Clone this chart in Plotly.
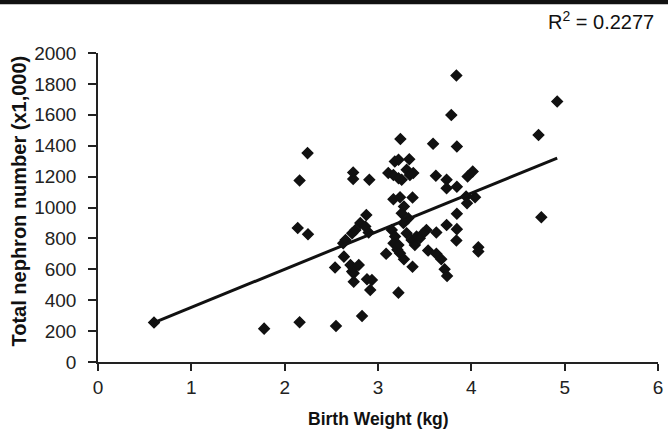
import plotly.graph_objects as go

# Birth weight (kg) and total nephron number (x1,000)
birth_weight = [
    0.60, 1.78, 2.16, 2.16, 2.245, 2.14, 2.25, 2.55, 2.54, 2.635,
    2.627, 2.652, 2.723, 2.758, 2.81, 2.864, 2.90, 2.875, 2.734, 2.734,
    2.907, 2.705, 2.74, 2.794, 2.723, 2.74, 2.74, 2.882, 2.935, 2.917,
    2.829, 3.219, 3.087, 3.208, 3.236, 3.278, 3.37, 3.148, 3.183, 3.166,
    3.219, 3.307, 3.36, 3.395, 3.413, 3.519, 3.484, 3.625, 3.448, 3.278,
    3.254, 3.325, 3.272, 3.165, 3.236, 3.37, 3.11, 3.165, 3.22, 3.307,
    3.342, 3.378, 3.254, 3.18, 3.22, 3.335, 3.24, 3.59, 3.845, 3.785,
    3.84, 3.62, 3.735, 3.735, 3.845, 3.96, 4.015, 3.944, 3.954, 4.04,
    3.845, 3.845, 3.84, 3.735, 4.075, 4.075, 3.537, 3.625, 3.678, 3.714,
    3.74, 4.72, 4.92, 4.75,
]
nephron_number = [
    255, 216, 258, 1175, 1352, 868, 827, 233, 612, 682,
    769, 790, 834, 855, 899, 877, 838, 952, 1226, 1184,
    1179, 628, 607, 628, 585, 575, 520, 536, 531, 466,
    298, 449, 700, 726, 704, 665, 617, 855, 812, 769,
    758, 834, 790, 758, 812, 855, 834, 838, 801, 1006,
    963, 931, 899, 1054, 1067, 1064, 1223, 1211, 1190, 1244,
    1211, 1223, 1179, 1298, 1309, 1313, 1443, 1412, 1395, 1598,
    1855, 1205, 1179, 1125, 1134, 1201, 1233, 1071, 1028, 1067,
    959, 860, 786, 886, 743, 715, 721, 700, 665, 600,
    557, 1469, 1686, 937,
]

# Linear trendline end points
trend_x = [0.60, 4.92]
trend_y = [255, 1320]

x_ticks = [0, 1, 2, 3, 4, 5, 6]
y_ticks = [0, 200, 400, 600, 800, 1000, 1200, 1400, 1600, 1800, 2000]

FONT = "Liberation Sans, Arial, sans-serif"

fig = go.Figure()
fig.add_trace(go.Scatter(
    x=birth_weight, y=nephron_number, mode="markers",
    marker=dict(symbol="diamond", size=8, color="#111",
                line=dict(color="#111", width=1.5)),
    showlegend=False, hoverinfo="x+y",
))
fig.add_trace(go.Scatter(
    x=trend_x, y=trend_y, mode="lines",
    line=dict(color="#111", width=3),
    showlegend=False, hoverinfo="skip",
))

tick_font = dict(family=FONT, size=19, color="#222")

fig.update_layout(
    width=668, height=437,
    margin=dict(l=98, r=5, t=53, b=75),
    paper_bgcolor="white", plot_bgcolor="white",
    xaxis=dict(
        range=[0, 6], tickmode="array", tickvals=x_ticks,
        ticktext=[str(v) for v in x_ticks],
        showgrid=False, zeroline=False, showline=True, linecolor="#222", linewidth=1.5,
        ticks="outside", ticklen=7, tickwidth=1.5, tickcolor="#222",
        tickfont=tick_font, ticklabeloverflow="allow",
    ),
    yaxis=dict(
        range=[0, 2000], tickmode="array", tickvals=y_ticks,
        ticktext=[str(v) for v in y_ticks],
        showgrid=False, zeroline=False, showline=True, linecolor="#222", linewidth=1.5,
        ticks="outside", ticklen=8, tickwidth=1.5, tickcolor="#222",
        tickfont=tick_font, ticklabelstandoff=8, ticklabeloverflow="allow",
    ),
    shapes=[dict(type="rect", xref="paper", yref="paper", x0=-0.2, x1=1.1,
                 y0=1.158, y1=1.19, fillcolor="#111", line=dict(width=0))],
    annotations=[
        dict(text="R<sup>2</sup> = 0.2277", xref="paper", yref="paper",
             x=1.0, y=1.0, xanchor="right", yanchor="middle", xshift=-2, yshift=33,
             showarrow=False, font=dict(family=FONT, size=20, color="#111")),
        dict(text="<b>Birth Weight (kg)</b>", xref="paper", yref="paper",
             x=0.5, y=0.0, xanchor="center", yanchor="middle", yshift=-57,
             showarrow=False, font=dict(family=FONT, size=17.5, color="#111")),
        dict(text="<b>Total nephron number (x1,000)</b>", xref="paper", yref="paper",
             x=0.0, y=0.5, xanchor="center", yanchor="middle", xshift=-80, yshift=6,
             textangle=-90, showarrow=False, font=dict(family=FONT, size=20, color="#111")),
    ],
)

fig.write_html("out.html", config={"displayModeBar": False},
               post_script="document.body.style.margin='0';")
